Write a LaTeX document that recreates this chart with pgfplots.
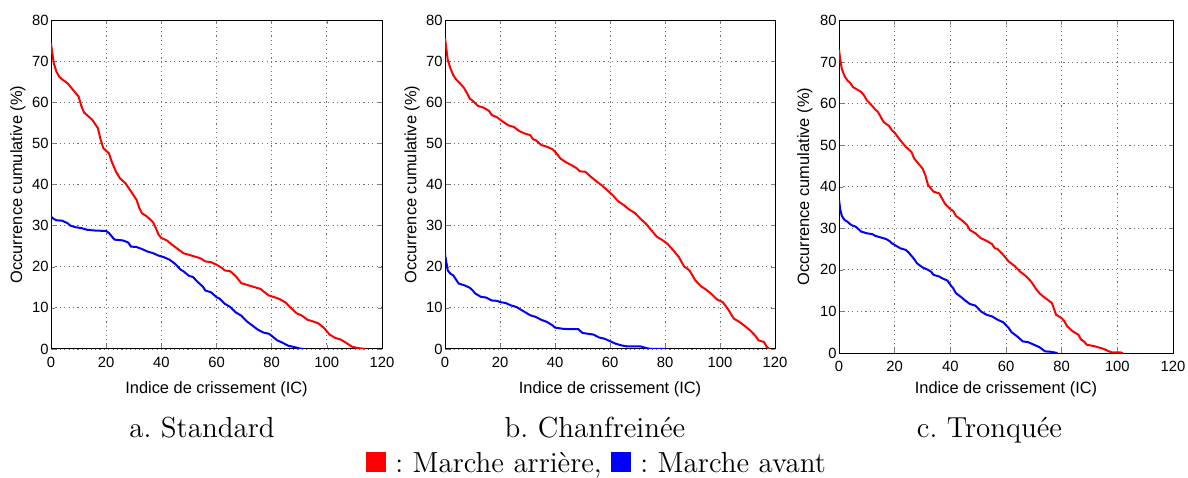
\documentclass[border=0pt]{standalone}
\usepackage{fontspec}
\usepackage{pgfplots}
\pgfplotsset{compat=1.18}
\newfontfamily\axfont{Liberation Sans}
\frenchspacing

\pgfplotsset{
  crisse/.style={
    scale only axis,
    anchor=north west,
    xmin=0, xmax=120, ymin=0, ymax=80,
    xtick={0,20,...,120}, ytick={0,10,...,80},
    tick align=inside, major tick length=2pt,
    grid=major,
    major grid style={dash pattern=on 0.6pt off 1.6pt, black!55, line width=0.4pt},
    axis line style={line width=0.5pt},
    /pgf/number format/assume math mode=true,
    ticklabel style={font=\axfont\fontsize{7.4}{8}\selectfont},
    xticklabel style={anchor=center, yshift=-6.5pt},
    yticklabel style={anchor=east, inner sep=0pt, xshift=-1pt},
    label style={font=\axfont\fontsize{8.2}{9}\selectfont},
    xlabel={Indice de crissement (IC)},
    ylabel={Occurrence cumulative (\%)},
    xlabel style={at={(axis description cs:0.5,0)}, anchor=center, yshift=-20pt},
    ylabel style={at={(axis description cs:-0.0997,0.5)}, anchor=center},
    every axis plot/.append style={no markers, line width=1pt},
  }
}

\begin{document}
\begin{tikzpicture}
\useasboundingbox (0,0) rectangle (594pt,-238.5pt);

% ---- a. Standard
\begin{axis}[crisse, at={(25.5pt,-10pt)}, width=165.5pt, height=164.5pt]
\addplot[red] coordinates {
(0,74.3) (1,69.5) (2,67.4) (3,66.2) (4,65.6) (6,64.6) (8,63) (10,61.4) (11,59.1)
(12,57.5) (15,55.7) (17,53.7) (18,50.9) (19,48.8) (21,47.6) (22,45.6) (23.5,43.2)
(25,41.5) (27,40.3) (29,38.3) (31,36.3) (32,34.3) (33,33) (35,32.1) (37,30.8)
(38,29.4) (39,27.8) (40,27) (42,26.4) (44,25.3) (46,24.3) (48,23.3) (51,22.7)
(54,22.1) (56,21.3) (58,21.1) (60,20.5) (62,19.7) (63,19.1) (65,18.9) (67,17.7)
(69,16) (71,15.6) (73,15.2) (76,14.6) (77,14) (79,13) (81,12.6) (83,12.1) (85,11.3)
(87,10) (89,8.7) (91,8.1) (93,7.1) (95,6.7) (97,6.2) (99,5.1) (101,3.5) (103,2.7)
(105,2.3) (107,1.5) (109,0.6) (111,0.25) (114,0)
};
\addplot[blue] coordinates {
(0,32.2) (1,31.6) (2,31.3) (4,31.2) (6,30.6) (7,30) (9,29.6) (11,29.4) (13,29)
(16,28.8) (20,28.7) (21,28.2) (23,26.6) (26,26.4) (28,25.9) (29,24.9) (31,24.8)
(33,24.3) (35,23.7) (37,23.3) (39,22.7) (41,22.3) (43,21.7) (45,20.7) (47,19.3)
(48,18.9) (50,17.8) (51.5,17.5) (53,16.4) (55,15.2) (56,14.2) (58,13.8) (60,12.6)
(61,12.3) (63,11) (65,10.2) (67,8.9) (69,8.1) (71,6.7) (73,5.7) (75,4.7) (77,4)
(79,3.7) (80,3.2) (82,2.1) (84,1.5) (86,0.8) (88,0.5) (90,0.15) (91.5,0)
};
\end{axis}

% ---- b. Chanfreinee
\begin{axis}[crisse, at={(222.5pt,-10pt)}, width=165pt, height=164.5pt]
\addplot[red] coordinates {
(0,75.6) (1,70.3) (2,68.2) (3,66.6) (4,65.6) (6,64.2) (7,63.4) (8,62.2) (9,60.9)
(10,60.4) (12,59.1) (14,58.7) (16,57.9) (17,56.9) (19,56.3) (21,55.3) (23,54.4)
(25,54) (27,53) (29,52.4) (31,52) (32,51) (33,50.8) (35,49.6) (37,49.2) (39,48.6)
(40,48) (42,46.3) (44,45.4) (46,44.7) (48,43.9) (49,43.2) (51,43.1) (53,41.9)
(55,40.8) (57,39.8) (59,38.6) (61,37.4) (63,35.9) (65,35) (67,33.9) (69,33.1)
(71,31.7) (73,30.5) (75,28.9) (77,27.3) (79,26.5) (81,25.5) (83,24) (85,22.4)
(87,20) (88,19.6) (89,19) (91,16.7) (93,15.3) (95,14.4) (97,13.3) (99,12) (101,11.4)
(103,9.6) (105,7.4) (107,6.6) (109,5.6) (111,4.5) (113,3.1) (114,2.1) (116,1.7)
(117,0.5) (118,0)
};
\addplot[blue] coordinates {
(0,23) (1,19.1) (2,18.3) (3,17.9) (4,16.9) (5,15.9) (7,15.5) (9,14.9) (10,14.3)
(11,13.5) (13,12.7) (15,12.5) (17,11.8) (19,11.7) (20,11.4) (22,11.2) (24,10.6)
(26,10.2) (28,9.4) (30,8.6) (31,8.2) (33,7.8) (35,7.1) (37,6.6) (39,5.8) (40,5.2)
(43,4.9) (46,4.8) (48.5,4.8) (50,3.9) (52,3.7) (54,3.5) (56,2.8) (58,2.5) (60,1.9)
(62,1.3) (64,0.9) (66,0.65) (71,0.65) (73,0.25) (75,0) (80.5,0)
};
\end{axis}

% ---- c. Tronquee
\begin{axis}[crisse, at={(419.5pt,-10.25pt)}, width=167pt, height=166.25pt,
  xlabel style={yshift=2pt},
  ylabel style={at={(axis description cs:-0.102,0.5)}}]
\addplot[red] coordinates {
(0,73) (0.5,70.4) (1,68.4) (2,66.6) (3,65.6) (4,65) (5,64) (6,63.6) (8,62.8) (9,62)
(10,60.8) (12,59.4) (13,58.6) (14,58) (15,56.8) (16,55.6) (18,54.6) (19,53.6) (20,53)
(22,51.2) (24,49.6) (26,48.4) (27,46.8) (29,45.2) (30,44.4) (31,42.8) (32,40.4)
(33,39.6) (34,38.8) (36,38.4) (37,37.2) (38,36) (40,34.6) (41,34.2) (42,33) (44,32)
(46,30.8) (47,29.6) (49,28.8) (51,27.6) (53,27) (55,26.2) (56,25.2) (57,25) (59,23.6)
(61,22) (63,21) (65,19.6) (67,18.6) (69,17.2) (71,15.2) (72,14.4) (73,13.8) (75,12.8)
(76.5,12) (78,9.2) (80,8.4) (81,7.6) (82,6.4) (84,5.2) (86,4.4) (87,3.2) (88,2.8)
(89,2) (92,1.6) (95,1) (97,0.4) (98,0.15) (101,0.15) (102,0)
};
\addplot[blue] coordinates {
(0,36.8) (0.5,34.4) (1,33) (2,32) (3,31.6) (4,31) (5,30.6) (6,30.4) (7,29.8) (8,29.2)
(10,28.8) (12,28.6) (13,28.2) (15,27.8) (17,27.4) (18,27) (19,26.4) (20,26) (22,25.2)
(24,24.8) (25,24.2) (27,22.6) (28,21.6) (30,20.6) (32,20) (33,19.6) (34,18.8)
(36,18.4) (37,18) (39,17.4) (40,16.4) (41,15.6) (42,14.4) (44,13.4) (45,12.8)
(47,11.8) (49,11.4) (51,10) (53,9.2) (55,8.8) (57,8) (59,7.4) (61,6) (62,5) (64,4)
(66,2.8) (68,2.6) (70,2) (72,1.4) (74,0.4) (76,0.3) (78.5,0)
};
\end{axis}

% ---- captions
\begin{scope}[every node/.style={inner sep=0pt, anchor=base, font=\fontsize{14.5}{16}\selectfont}]
\node at (101pt,-218.5pt) {a. Standard};
\node at (297.5pt,-218.5pt) {b. Chanfreinée};
\node at (494.75pt,-218.5pt) {c. Tronquée};
\node at (298pt,-236pt) {{\color{red}\rule{9.8pt}{9.8pt}} : Marche arrière, {\color{blue}\rule{9.8pt}{9.8pt}} : Marche avant};
\end{scope}
\end{tikzpicture}
\end{document}
